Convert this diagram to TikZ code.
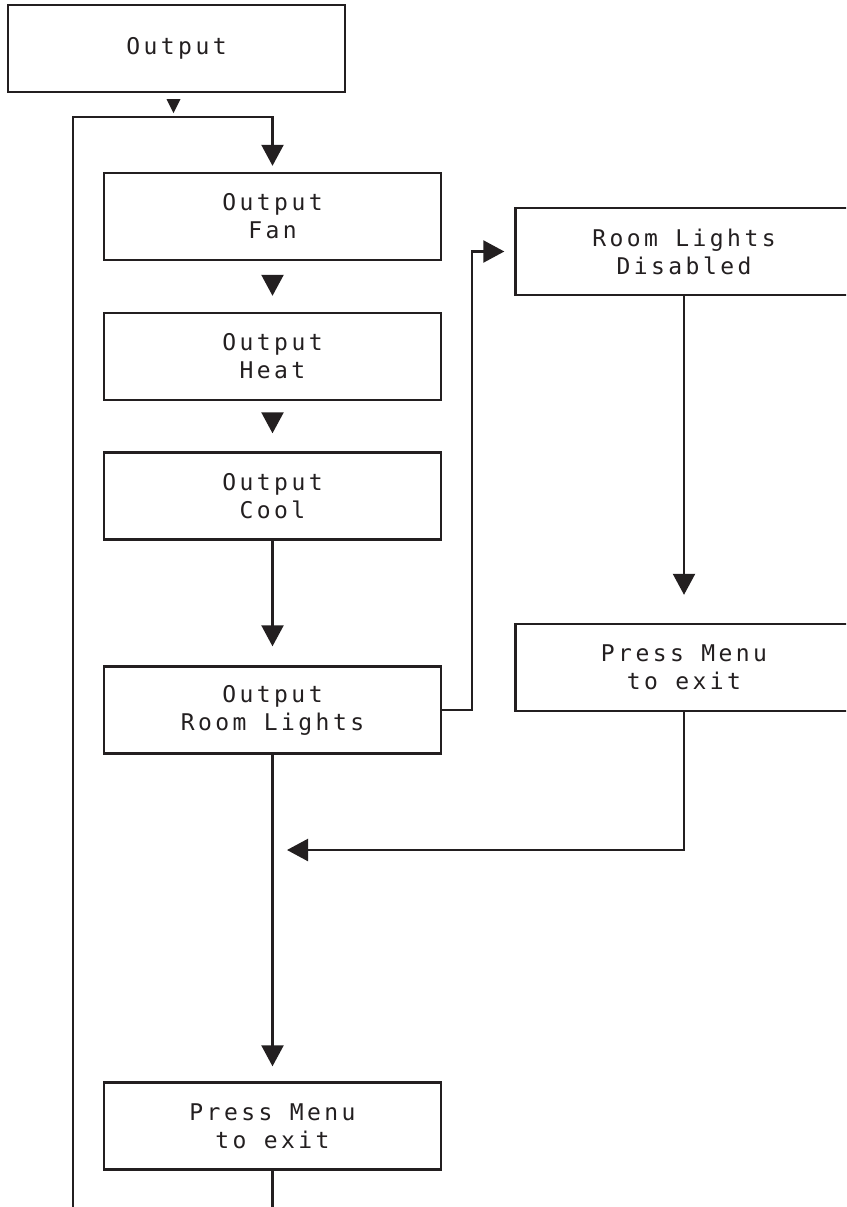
\documentclass[tikz,border=0pt]{standalone}
\usepackage{fontspec}
\newfontfamily\lcd[LetterSpace=15]{DejaVu Sans Mono}
\usetikzlibrary{arrows.meta,calc}
\definecolor{ink}{HTML}{231F20}
\begin{document}
\begin{tikzpicture}[x=1pt,y=-1pt,
  box/.style={draw=ink,line width=2.4pt,minimum width=337pt,minimum height=87pt,
    inner sep=0pt,align=center,font=\lcd\fontsize{23}{28}\selectfont,text=ink},
  conn/.style={draw=ink,line width=2.3pt},
  arr/.style={conn,-{Triangle[width=22pt,length=21pt]}}]
\clip (0,0) rectangle (846,1207);
\fill[white] (0,0) rectangle (846,1207);
% nodes
\node[box] (out)  at (176.5,48.5) {Output};
\node[box] (fan)  at (272.5,216.5) {Output\\Fan};
\node[box] (heat) at (272.5,356.5) {Output\\Heat};
\node[box] (cool) at (272.5,496) {Output\\Cool};
\node[box] (rl)   at (272.5,710) {Output\\Room Lights};
\node[box] (pm1)  at (272.5,1126) {Press Menu\\to exit};
\node[box] (dis)  at (684,251.5) {Room Lights\\Disabled};
\node[box] (pm2)  at (684,667.5) {Press Menu\\to exit};
% free ends
\coordinate (lb) at (73,1215);
\coordinate (pb) at (272.5,1215);
\coordinate (j)  at (273,850);
% small marker below Output
\fill[ink] ($(out.south)+(-10,6)$) -- ($(out.south)+(4,6)$) -- ($(out.south)+(-3,20)$) -- cycle;
% connectors
\draw[arr,shorten >=6pt] (lb) |- ($(fan.north)+(0,-55)$) -- (fan.north);
\draw[arr,shorten <=16pt,shorten >=16pt] (fan.south) -- (heat.north);
\draw[arr,shorten <=14pt,shorten >=18pt] (heat.south) -- (cool.north);
\draw[arr,shorten >=19pt] (cool.south) -- (rl.north);
\draw[arr,shorten >=10pt] (rl.east) -- ++(30,0) |- (dis.west);
\draw[arr,shorten >=28pt] (dis.south) -- (pm2.north);
\draw[arr,shorten >=14pt] (pm2.south) |- (j);
\draw[arr,shorten >=15pt] (rl.south) -- (pm1.north);
\draw[conn] (pm1.south) -- (pb);
\end{tikzpicture}
\end{document}
